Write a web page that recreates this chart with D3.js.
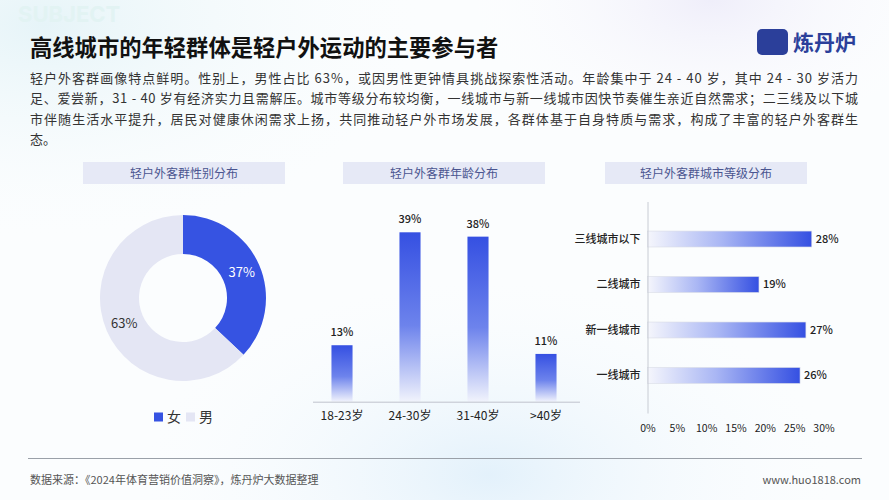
<!DOCTYPE html>
<html><head><meta charset="utf-8">
<script src="https://cdn.jsdelivr.net/npm/d3@7"></script>
<style>
html,body{margin:0;padding:0;background:#fff;}
svg{display:block;font-family:"Noto Sans CJK SC","Noto Sans",sans-serif;}
</style></head>
<body><svg id="c" width="889" height="500"></svg>
<script>
// ---- data ----
const titleText = "高线城市的年轻群体是轻户外运动的主要参与者";
const paragraphLines = [
  "轻户外客群画像特点鲜明。性别上，男性占比 63%，或因男性更钟情具挑战探索性活动。年龄集中于 24 - 40 岁，其中 24 - 30 岁活力",
  "足、爱尝新，31 - 40 岁有经济实力且需解压。城市等级分布较均衡，一线城市与新一线城市因快节奏催生亲近自然需求；二三线及以下城",
  "市伴随生活水平提升，居民对健康休闲需求上扬，共同推动轻户外市场发展，各群体基于自身特质与需求，构成了丰富的轻户外客群生",
  "态。"
];
const panelTitles = ["轻户外客群性别分布", "轻户外客群年龄分布", "轻户外客群城市等级分布"];
const genderLabels = ["女", "男"];
const genderValues = [37, 63];
const ageCategories = ["18-23岁", "24-30岁", "31-40岁", ">40岁"];
const ageValues = [13, 39, 38, 11];
const cityCategories = ["三线城市以下", "二线城市", "新一线城市", "一线城市"];
const cityValues = [28, 19, 27, 26];
const cityTicks = [0, 5, 10, 15, 20, 25, 30];
const sourceText = "数据来源：《2024年体育营销价值洞察》，炼丹炉大数据整理";
const siteText = "www.huo1818.com";

const svg = d3.select("#c");
const defs = svg.append("defs");

// background
const bg = defs.append("radialGradient").attr("id","bg1").attr("cx","0.05").attr("cy","0.05").attr("r","0.5");
bg.append("stop").attr("offset","0").attr("stop-color","#e6f4f8");
bg.append("stop").attr("offset","1").attr("stop-color","#ffffff").attr("stop-opacity","0");
const bg2 = defs.append("radialGradient").attr("id","bg2").attr("cx","0.55").attr("cy","0.95").attr("r","0.45");
bg2.append("stop").attr("offset","0").attr("stop-color","#e3f1fb");
bg2.append("stop").attr("offset","1").attr("stop-color","#ffffff").attr("stop-opacity","0");
const bg3 = defs.append("radialGradient").attr("id","bg3").attr("cx","0.8").attr("cy","0.0").attr("r","0.3");
bg3.append("stop").attr("offset","0").attr("stop-color","#efeefa");
bg3.append("stop").attr("offset","1").attr("stop-color","#ffffff").attr("stop-opacity","0");
svg.append("rect").attr("width",889).attr("height",500).attr("fill","#fbfdfe");
svg.append("rect").attr("width",889).attr("height",500).attr("fill","url(#bg1)");
svg.append("rect").attr("width",889).attr("height",500).attr("fill","url(#bg2)");
svg.append("rect").attr("width",889).attr("height",500).attr("fill","url(#bg3)");

// faint SUBJECT
svg.append("text").attr("x",18).attr("y",22).attr("font-size",22).attr("font-weight","bold")
  .attr("font-family","Inter, sans-serif").attr("fill","#e2f3f3").text("SUBJECT");

// title
svg.append("text").attr("x",30).attr("y",56).attr("font-size",22.3).attr("font-weight","bold")
  .attr("fill","#111").text(titleText);

// logo
const logo = svg.append("g");
logo.append("rect").attr("x",757).attr("y",29).attr("width",31).attr("height",26).attr("rx",5).attr("fill","#2b3f9a");
logo.append("text").attr("x",793).attr("y",50).attr("font-size",21).attr("font-weight","bold").attr("fill","#2b3f9a").text("炼丹炉");

// paragraph
paragraphLines.forEach((t,i)=>{
  const tx = svg.append("text").attr("x",30).attr("y",83+i*20.3).attr("font-size",13).attr("fill","#333").text(t);
  if(i<3) tx.attr("textLength",828).attr("lengthAdjust","spacing");
});

// panel headers
const headerX = [83, 343, 605];
panelTitles.forEach((t,i)=>{
  svg.append("rect").attr("x",headerX[i]).attr("y",162).attr("width",202).attr("height",22).attr("fill","#e6e9f6");
  svg.append("text").attr("x",headerX[i]+101).attr("y",177.5).attr("text-anchor","middle").attr("font-size",12)
    .attr("fill","#4a5590").text(t);
});

// ---- donut ----
const blue = "#3653e2";
const grayPie = "#e4e6f4";
const pieColor = d3.scaleOrdinal().domain(genderLabels).range([blue, grayPie]);
const pie = d3.pie().sort(null).value(d=>d.v);
const pdata = pie(genderLabels.map((l,i)=>({l, v: genderValues[i]})));
const arc = d3.arc().innerRadius(44).outerRadius(83);
const labelArc = d3.arc().innerRadius(64).outerRadius(64);
const dg = svg.append("g").attr("transform","translate(183,298)");
dg.selectAll("path").data(pdata).join("path").attr("d",arc).attr("fill",d=>pieColor(d.data.l));
dg.selectAll("text").data(pdata).join("text")
  .attr("transform",d=>{
    const c = labelArc.centroid(d);
    return `translate(${c[0]},${c[1]})`;
  })
  .attr("text-anchor","middle").attr("dy","0.35em").attr("font-size",13)
  .attr("fill",(d,i)=> i===0 ? "#fff" : "#333")
  .text(d=>d.data.v+"%");
// legend
const lg = svg.append("g").attr("transform","translate(154,417)");
genderLabels.forEach((l,i)=>{
  lg.append("rect").attr("x",i*32).attr("y",-4.5).attr("width",9).attr("height",9).attr("fill",pieColor(l));
  lg.append("text").attr("x",i*32+13).attr("y",0).attr("dy","0.35em").attr("font-size",14).attr("fill","#333").text(l);
});

// ---- age bar chart ----
const vg = defs.append("linearGradient").attr("id","vgrad").attr("x1",0).attr("y1",0).attr("x2",0).attr("y2",1);
vg.append("stop").attr("offset","0").attr("stop-color","#3550e2");
vg.append("stop").attr("offset","0.55").attr("stop-color","#6d83ec");
vg.append("stop").attr("offset","1").attr("stop-color","#f1f3fc");
const xAge = d3.scaleBand().domain(ageCategories).range([308,580]).paddingInner(0.69).paddingOuter(0.345);
const yAge = d3.scaleLinear().domain([0,39]).range([401.7,232.3]);
const ag = svg.append("g");
ag.selectAll("rect").data(ageCategories).join("rect")
  .attr("x",d=>xAge(d)).attr("width",xAge.bandwidth())
  .attr("y",(d,i)=>yAge(ageValues[i])).attr("height",(d,i)=>yAge(0)-yAge(ageValues[i]))
  .attr("fill","url(#vgrad)");
ag.selectAll("text.v").data(ageCategories).join("text").attr("class","v")
  .attr("x",d=>xAge(d)+xAge.bandwidth()/2).attr("y",(d,i)=>yAge(ageValues[i])-9)
  .attr("text-anchor","middle").attr("font-size",11).attr("font-weight","500").attr("fill","#222")
  .text((d,i)=>ageValues[i]+"%");
const axB = svg.append("g").attr("transform",`translate(0,${yAge(0)})`)
  .call(d3.axisBottom(xAge).tickSize(0).tickPadding(10));
axB.select(".domain").attr("stroke","#bfc3cc").attr("d","M313,0.5H580");
axB.selectAll("text").attr("font-size",12).attr("fill","#222").attr("font-family","Noto Sans CJK SC, sans-serif");

// ---- city bar chart ----
const hg = defs.append("linearGradient").attr("id","hgrad").attr("x1",0).attr("y1",0).attr("x2",1).attr("y2",0);
hg.append("stop").attr("offset","0").attr("stop-color","#f5f6fc");
hg.append("stop").attr("offset","0.45").attr("stop-color","#a9b6f4");
hg.append("stop").attr("offset","1").attr("stop-color","#3550e2");
const xCity = d3.scaleLinear().domain([0,30]).range([647.5,823.5]);
const yCity = d3.scaleBand().domain(cityCategories).range([201.5,413]).padding(0.65);
const cg = svg.append("g");
cg.selectAll("rect").data(cityCategories).join("rect")
  .attr("x",xCity(0)).attr("y",d=>yCity(d)).attr("height",yCity.bandwidth())
  .attr("width",(d,i)=>xCity(cityValues[i])-xCity(0))
  .attr("fill","url(#hgrad)").attr("stroke","#d9dce6").attr("stroke-width",0.6);
cg.selectAll("text.v").data(cityCategories).join("text").attr("class","v")
  .attr("x",(d,i)=>xCity(cityValues[i])+4).attr("y",d=>yCity(d)+yCity.bandwidth()/2).attr("dy","0.35em")
  .attr("font-size",11).attr("font-weight","500").attr("fill","#222").text((d,i)=>cityValues[i]+"%");
const axL = svg.append("g").attr("transform",`translate(${xCity(0)},0)`)
  .call(d3.axisLeft(yCity).tickSize(0).tickPadding(7));
axL.select(".domain").attr("stroke","#c8ccd4");
axL.selectAll("text").attr("font-size",11).attr("font-weight","500").attr("fill","#222").attr("font-family","Noto Sans CJK SC, sans-serif");
const axX = svg.append("g").attr("transform","translate(0,419)")
  .call(d3.axisBottom(xCity).tickValues(cityTicks).tickFormat(d=>d+"%").tickSize(0).tickPadding(6));
axX.select(".domain").remove();
axX.selectAll("text").attr("font-size",10.5).attr("fill","#222").attr("font-family","Noto Sans CJK SC, sans-serif");

// ---- footer ----
svg.append("line").attr("x1",28).attr("x2",862).attr("y1",458.5).attr("y2",458.5).attr("stroke","#9aa0a8").attr("stroke-width",1);
svg.append("text").attr("x",30).attr("y",484).attr("font-size",11).attr("fill","#555").text(sourceText);
svg.append("text").attr("x",861).attr("y",484).attr("text-anchor","end").attr("font-size",11).attr("fill","#555").text(siteText);
</script></body></html>
